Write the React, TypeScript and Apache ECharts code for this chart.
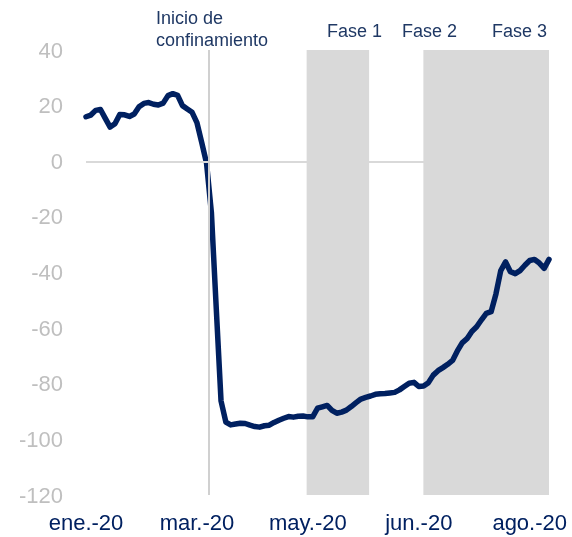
import React, { useEffect, useRef } from "react";
import * as echarts from "echarts";

// x positions are observation indices; tick labels every 23 observations
const tickLabels = ["ene.-20", "mar.-20", "may.-20", "jun.-20", "ago.-20"];
const tickStep = 23;

const values = [
  16.0, 16.6, 18.3, 18.6, 15.4, 12.3, 13.5, 16.8, 16.7, 16.1,
  17.0, 19.6, 20.8, 21.1, 20.5, 20.2, 20.9, 23.6, 24.3, 23.7,
  20.0, 18.8, 17.6, 13.9, 6.7, -0.8, -18.4, -52.6, -86.2, -93.8,
  -94.8, -94.5, -94.2, -94.3, -94.9, -95.4, -95.6, -95.1, -94.9, -93.9,
  -93.1, -92.4, -91.8, -92.0, -91.7, -91.6, -91.9, -91.9, -88.8, -88.3,
  -87.8, -89.6, -90.6, -90.2, -89.5, -88.2, -86.8, -85.5, -84.9, -84.4,
  -83.8, -83.6, -83.5, -83.3, -83.1, -82.2, -81.0, -79.8, -79.5, -81.0,
  -80.8, -79.6, -76.9, -75.3, -74.2, -73.0, -71.6, -68.2, -65.3, -63.8,
  -61.2, -59.5, -57.0, -54.7, -54.1, -47.7, -39.3, -36.2, -39.7, -40.4,
  -39.3, -37.4, -35.7, -35.3, -36.6, -38.5, -35.3,
];

// shaded phase bands (start index, end index)
const shadedBands: [number, number][] = [
  [45.75, 58.7],
  [69.95, 96],
];
const confinementIndex = 25.5;

const phaseLabels = ["Fase 1", "Fase 2", "Fase 3"];
const confinementLabel = ["Inicio de", "confinamiento"];

const FONT = "'Liberation Sans', Arial, sans-serif";
const NAVY = "#002060";
const TEXT_NAVY = "#1f3864";

export default function App() {
  const ref = useRef<HTMLDivElement>(null);

  useEffect(() => {
    if (!ref.current) return;
    const chart = echarts.init(ref.current, undefined, { renderer: "svg" });
    const lastIndex = values.length - 1;

    const phaseLeft = [327, 402, 492];

    chart.setOption({
      animation: false,
      textStyle: { fontFamily: FONT },
      grid: { left: 86, right: 23, top: 50, bottom: 42, containLabel: false },
      xAxis: {
        type: "value",
        min: 0,
        max: lastIndex,
        interval: tickStep,
        axisLine: { show: false },
        axisTick: { show: false },
        splitLine: { show: false },
        axisLabel: {
          color: NAVY,
          fontSize: 22,
          fontFamily: FONT,
          margin: 16,
          formatter: (v: number) =>
            v % tickStep === 0 && tickLabels[v / tickStep] ? tickLabels[v / tickStep] : "",
        },
      },
      yAxis: {
        type: "value",
        min: -120,
        max: 40,
        interval: 20,
        axisLine: { show: false },
        axisTick: { show: false },
        splitLine: { show: false },
        axisLabel: { color: "#bfbfbf", fontSize: 22, fontFamily: FONT, margin: 23 },
      },
      series: [
        {
          type: "line",
          data: [],
          z: 1,
          silent: true,
          markArea: {
            silent: true,
            itemStyle: { color: "#d9d9d9" },
            data: shadedBands.map(([a, b]) => [{ xAxis: a }, { xAxis: b }]),
          },
          markLine: {
            silent: true,
            symbol: ["none", "none"],
            label: { show: false },
            data: [
              { yAxis: 0, lineStyle: { color: "#d9d9d9", width: 2, type: "solid" } },
              { xAxis: confinementIndex, lineStyle: { color: "#d0d0d0", width: 2, type: "solid" } },
            ],
          },
        },
        {
          type: "line",
          z: 3,
          showSymbol: false,
          symbol: "none",
          data: values.map((v, i) => [i, v]),
          lineStyle: { color: NAVY, width: 5.5, cap: "round", join: "round" },
          itemStyle: { color: NAVY },
        },
      ],
      graphic: [
        ...phaseLabels.map((t, i) => ({
          type: "text",
          left: phaseLeft[i],
          top: 22,
          style: { text: t, fill: TEXT_NAVY, fontSize: 18, fontFamily: FONT },
        })),
        {
          type: "text",
          left: 156,
          top: 7,
          style: {
            text: confinementLabel.join("\n"),
            fill: TEXT_NAVY,
            fontSize: 18,
            lineHeight: 22,
            fontFamily: FONT,
          },
        },
      ],
    });
    return () => chart.dispose();
  }, []);

  return (
    <div
      ref={ref}
      style={{ position: "fixed", left: 0, top: 0, width: 572, height: 537 }}
    />
  );
}
